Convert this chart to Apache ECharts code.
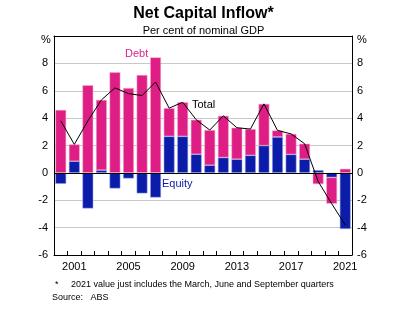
<!DOCTYPE html>
<html>
<head>
<meta charset="utf-8">
<script src="https://cdn.jsdelivr.net/npm/echarts@6/dist/echarts.min.js"></script>
<style>
  html, body { margin: 0; padding: 0; background: #fff; }
  #chart { width: 407px; height: 322px; }
</style>
</head>
<body>
<div id="chart"></div>
<script>
// Net capital inflow, per cent of nominal GDP
const years = ['2000','2001','2002','2003','2004','2005','2006','2007','2008','2009','2010',
               '2011','2012','2013','2014','2015','2016','2017','2018','2019','2020','2021'];
const equity = [-0.8, 0.85, -2.6, 0.2, -1.14, -0.41, -1.5, -1.8, 2.67, 2.67, 1.36,
                0.56, 1.12, 1.0, 1.28, 1.99, 2.62, 1.35, 1.0, 0.2, -0.33, -4.1];
const debt = [4.6, 1.23, 6.4, 5.13, 7.35, 6.2, 7.15, 8.44, 2.06, 2.49, 2.52,
              2.57, 3.05, 2.3, 1.92, 3.05, 0.48, 1.5, 1.13, -0.82, -1.92, 0.3];
const total = [3.8, 2.08, 3.8, 5.33, 6.21, 5.79, 5.65, 6.64, 4.73, 5.16, 3.88,
               3.13, 4.17, 3.3, 3.2, 5.04, 3.1, 2.85, 2.13, -0.62, -2.25, -3.8];
const yTicks = [-6, -4, -2, 0, 2, 4, 6, 8, 10];

const PINK = '#DE1E84';
const BLUE = '#0A1CA8';
const FONT = 'Liberation Sans, Arial, sans-serif';

const chart = echarts.init(document.getElementById('chart'), null, { renderer: 'canvas' });

const gridBox = { left: 54, top: 36, width: 298, height: 219 };

const yAxisCommon = {
  type: 'value',
  min: yTicks[0],
  max: yTicks[yTicks.length - 1],
  interval: 2,
  axisLine: { show: true, lineStyle: { color: '#000', width: 1 } },
  axisTick: { show: false },
  splitLine: { show: false },
  axisLabel: {
    color: '#000', fontSize: 11, fontFamily: FONT,
    formatter: v => (v === 10 ? '' : String(v))
  }
};

chart.setOption({
  animation: false,
  textStyle: { fontFamily: FONT },
  title: [
    { text: 'Net Capital Inflow*', left: 'center', top: 1,
      textStyle: { fontSize: 16, fontWeight: 'bold', color: '#000', fontFamily: FONT } },
    { text: 'Per cent of nominal GDP', left: 'center', top: 20,
      textStyle: { fontSize: 11, fontWeight: 'normal', color: '#000', fontFamily: FONT } }
  ],
  grid: gridBox,
  xAxis: [{
    type: 'category',
    data: years,
    boundaryGap: true,
    axisLine: { show: true, onZero: false, lineStyle: { color: '#000', width: 1 } },
    axisTick: { show: true, inside: true, length: 4, alignWithLabel: false, interval: 0,
                lineStyle: { color: '#000' } },
    axisLabel: {
      color: '#000', fontSize: 11, fontFamily: FONT, margin: 6,
      interval: (i) => i % 4 === 1
    },
    splitLine: { show: false }
  }, {
    type: 'category',
    data: years,
    position: 'top',
    axisLine: { show: true, onZero: false, lineStyle: { color: '#000', width: 1 } },
    axisTick: { show: false },
    axisLabel: { show: false }
  }],
  yAxis: [
    Object.assign({}, yAxisCommon, {
      position: 'left',
      axisLabel: Object.assign({}, yAxisCommon.axisLabel, { margin: 6 }),
      splitLine: { show: true, lineStyle: { color: '#c8c8c8', width: 1 } }
    }),
    Object.assign({}, yAxisCommon, {
      position: 'right',
      axisLabel: Object.assign({}, yAxisCommon.axisLabel, { margin: 5 })
    })
  ],
  graphic: [
    { type: 'text', left: 41, top: 34, style: { text: '%', font: '11px ' + FONT, fill: '#000' } },
    { type: 'text', left: 357, top: 34, style: { text: '%', font: '11px ' + FONT, fill: '#000' } },
    { type: 'text', left: 125, top: 48, style: { text: 'Debt', font: '11px ' + FONT, fill: PINK } },
    { type: 'text', left: 192, top: 99, style: { text: 'Total', font: '11px ' + FONT, fill: '#000' } },
    { type: 'text', left: 162, top: 178, style: { text: 'Equity', font: '11px ' + FONT, fill: BLUE } },
    { type: 'text', left: 55, top: 280, style: { text: '*', font: '9px ' + FONT, fill: '#000' } },
    { type: 'text', left: 71, top: 280,
      style: { text: '2021 value just includes the March, June and September quarters', font: '9px ' + FONT, fill: '#000' } },
    { type: 'text', left: 52, top: 293, style: { text: 'Source:   ABS', font: '9px ' + FONT, fill: '#000' } }
  ],
  series: [
    {
      name: 'Equity', type: 'bar', stack: 'flow', data: equity,
      barWidth: '80%', barGap: '0%',
      itemStyle: { color: BLUE, borderColor: 'rgba(150,160,230,0.9)', borderWidth: 0.6 }
    },
    {
      name: 'Debt', type: 'bar', stack: 'flow', data: debt,
      barWidth: '80%',
      itemStyle: { color: PINK, borderColor: 'rgba(245,170,205,0.9)', borderWidth: 0.6 }
    },
    {
      name: 'Total', type: 'line', data: total, symbol: 'none',
      lineStyle: { color: '#000', width: 1 }, z: 5
    },
    {
      // zero line
      type: 'line', data: [], markLine: {
        silent: true, symbol: 'none', label: { show: false },
        lineStyle: { color: '#000', width: 1, type: 'solid' },
        data: [{ yAxis: 0 }]
      }
    }
  ]
});
</script>
</body>
</html>
